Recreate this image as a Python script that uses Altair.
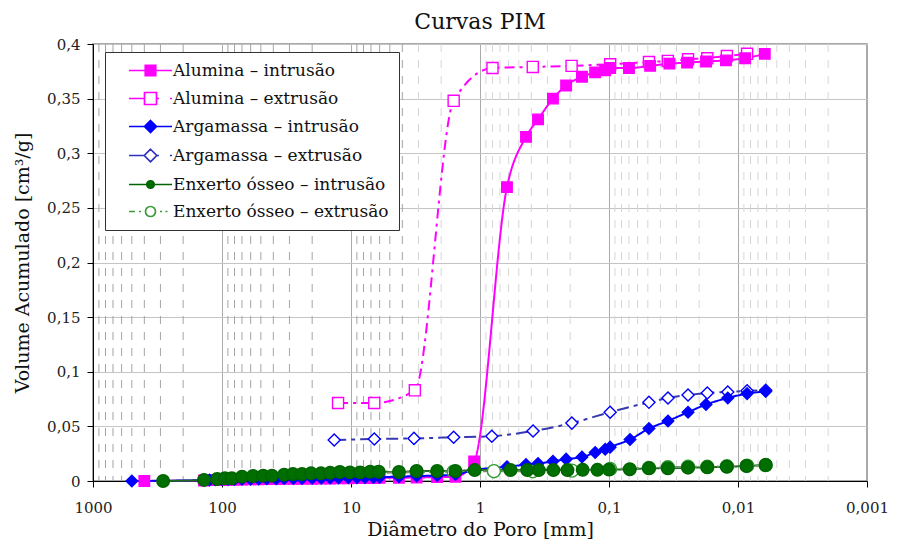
import altair as alt
import pandas as pd

series = [
    "Alumina – intrusão",
    "Alumina – extrusão",
    "Argamassa – intrusão",
    "Argamassa – extrusão",
    "Enxerto ósseo – intrusão",
    "Enxerto ósseo – extrusão",
]

# Alumina - intrusão
x_ai = [400, 138, 125, 113, 100, 90, 80, 70, 60, 52, 45, 38, 33, 28, 24, 20, 17, 14.5,
        12.5, 10.5, 9, 7.8, 6.7, 6.0, 4.25, 3.1, 2.15, 1.55, 1.11, 0.618, 0.44, 0.355,
        0.272, 0.215, 0.162, 0.128, 0.107, 0.098, 0.070, 0.048, 0.034, 0.0248, 0.0177,
        0.0124, 0.0088, 0.0062]
y_ai = [0, 0.0005, 0.0008, 0.001, 0.001, 0.0012, 0.0013, 0.0014, 0.0015, 0.0016, 0.0017,
        0.0018, 0.0019, 0.002, 0.002, 0.0021, 0.0022, 0.0023, 0.0024, 0.0025, 0.0026,
        0.0027, 0.0028, 0.003, 0.003, 0.0032, 0.0035, 0.0038, 0.018, 0.269, 0.315, 0.331,
        0.350, 0.362, 0.370, 0.374, 0.376, 0.378, 0.378, 0.380, 0.382, 0.383, 0.384,
        0.385, 0.387, 0.391]

# Alumina - extrusão
x_ae = [12.6, 6.6, 3.2, 1.6, 0.80, 0.39, 0.195, 0.098, 0.049, 0.035, 0.0244, 0.0173,
        0.0122, 0.0085]
y_ae = [0.0714, 0.0714, 0.083, 0.348, 0.378, 0.379, 0.380, 0.3815, 0.3835, 0.3845,
        0.386, 0.387, 0.389, 0.391]

# Argamassa - intrusão
x_gi = [500, 138, 125, 113, 100, 90, 80, 70, 60, 52, 45, 38, 33, 28, 24, 20, 17, 14.5,
        12.5, 10.5, 9, 7.8, 6.7, 6.0, 4.25, 3.1, 2.15, 1.55, 1.11, 0.618, 0.44, 0.355,
        0.272, 0.215, 0.162, 0.128, 0.107, 0.098, 0.0687, 0.049, 0.0349, 0.0244, 0.0177,
        0.012, 0.0085, 0.0061]
y_gi = [0, 0.0008, 0.001, 0.0012, 0.0013, 0.0014, 0.0015, 0.0016, 0.0017, 0.0018, 0.002,
        0.0021, 0.0022, 0.0023, 0.0024, 0.0025, 0.0026, 0.0027, 0.0028, 0.003, 0.0031,
        0.0032, 0.0033, 0.0035, 0.004, 0.0045, 0.005, 0.006, 0.010, 0.013, 0.015, 0.016,
        0.018, 0.020, 0.022, 0.026, 0.029, 0.031, 0.038, 0.048, 0.055, 0.063, 0.070,
        0.076, 0.080, 0.082]

# Argamassa - extrusão
x_ge = [13.5, 6.6, 3.25, 1.6, 0.81, 0.388, 0.194, 0.098, 0.049, 0.0349, 0.0244, 0.0173,
        0.012, 0.0085, 0.0061]
y_ge = [0.0375, 0.0384, 0.039, 0.040, 0.041, 0.0458, 0.053, 0.063, 0.072, 0.076, 0.0787,
        0.0805, 0.0815, 0.0825, 0.083]

# Enxerto ósseo - intrusão
x_ei = [286, 138, 109, 95, 84, 70, 57.5, 48, 41, 33, 28.2, 24, 20.4, 17.1, 14.5, 12.2,
        10.2, 8.5, 7.1, 6.1, 4.25, 3.1, 2.15, 1.55, 1.1, 0.58, 0.43, 0.35, 0.27, 0.21,
        0.16, 0.123, 0.1, 0.069, 0.049, 0.035, 0.0244, 0.0173, 0.0122, 0.0086, 0.0061]
y_ei = [0, 0.001, 0.0018, 0.0025, 0.0025, 0.004, 0.0046, 0.0049, 0.0049, 0.0058, 0.0064,
        0.0064, 0.007, 0.007, 0.0076, 0.0082, 0.0079, 0.0079, 0.0085, 0.0085, 0.0082,
        0.0092, 0.0092, 0.0092, 0.010, 0.010, 0.010, 0.010, 0.010, 0.010, 0.0102,
        0.0102, 0.0104, 0.0107, 0.0116, 0.0116, 0.0122, 0.0125, 0.0131, 0.0137, 0.0146]

# Enxerto ósseo - extrusão
x_ee = [12.4, 6.3, 3.1, 1.6, 0.78, 0.39, 0.194, 0.098, 0.049, 0.035, 0.0244, 0.0173,
        0.0122, 0.0085, 0.0061]
y_ee = [0.0073, 0.0075, 0.008, 0.0085, 0.009, 0.009, 0.0095, 0.011, 0.012, 0.0125,
        0.013, 0.013, 0.0135, 0.014, 0.0146]

x_ticks = [1000, 100, 10, 1, 0.1, 0.01, 0.001]
y_ticks = [0, 0.05, 0.1, 0.15, 0.2, 0.25, 0.3, 0.35, 0.4]
minor_mult = [2, 3, 4, 5, 6, 7, 8, 9]
minor_decades = [100, 10, 1, 0.1, 0.01, 0.001]

xs_all = [x_ai, x_ae, x_gi, x_ge, x_ei, x_ee]
ys_all = [y_ai, y_ae, y_gi, y_ge, y_ei, y_ee]
rows = []
for name, xs, ys in zip(series, xs_all, ys_all):
    for xv, yv in zip(xs, ys):
        rows.append({"serie": name, "d": xv, "v": yv, "ext": 0 if "extrus" in name else 1})
df = pd.DataFrame(rows)
df_pts = df.sort_values("ext", kind="stable").reset_index(drop=True)

minor_df = pd.DataFrame({"d": [m * dec for dec in minor_decades for m in minor_mult]})
legend_df = pd.DataFrame({"serie": series, "d": [1] * 6, "v": [-1] * 6})

SERIF = "DejaVu Serif"

xscale = alt.Scale(type="log", domain=[0.001, 1000], reverse=True, nice=False)
yscale = alt.Scale(domain=[0, 0.4], nice=False, zero=False)

line_colors = ["#FF00FF", "#FF00FF", "#0000FF", "#3838B0", "#1E6B1E", "#6F8F6F"]
dashes = [[1, 0], [10, 5, 3, 5], [1, 0], [12, 5, 4, 5], [1, 0], [6, 4, 2, 4]]
widths = [2, 2, 1.5, 1.5, 1.5, 1.5]
shapes = ["square", "square", "diamond", "diamond", "circle", "circle"]
mk_stroke = ["#FF00FF", "#FF00FF", "#0000FF", "#0000FF", "#006400", "#2E9A2E"]
mk_fill = ["#FF00FF", "#FFFFFF", "#0000FF", "#FFFFFF", "#006E00", "#FFFFFF"]
mk_size = [110, 170, 120, 150, 49, 170]

leg_paths = [
    "M-4.3,0H4.3M-1.05,-1.05H1.05V1.05H-1.05Z",
    "M-4.3,0H-1.2M1.2,0H1.7M3.9,0H4.3M-1.2,-1.2H1.2V1.2H-1.2Z",
    "M-4.3,0H4.3M0,-1.2L1.2,0L0,1.2L-1.2,0Z",
    "M-4.3,0H-1.25M1.25,0H1.7M3.9,0H4.3M0,-1.25L1.25,0L0,1.25L-1.25,0Z",
    "M-4.3,0H4.3M-0.75,0A0.75,0.75,0,1,0,0.75,0A0.75,0.75,0,1,0,-0.75,0Z",
    "M-4.3,0H-3.1M-2.3,0H-1.9M1.9,0H2.3M3.0,0H3.4M-1,0A1,1,0,1,0,1,0A1,1,0,1,0,-1,0Z",
]
leg_stroke = ["#FF00FF", "#FF00FF", "#0000FF", "#3030C0", "#006400", "#3A9A3A"]

x_axis = alt.Axis(
    values=x_ticks, format="~g", labelExpr="replace(datum.label, '.', ',')",
    title="Diâmetro do Poro [mm]", grid=True, gridColor="#ababab", gridWidth=1,
    tickSize=6, tickColor="#000", domainColor="#000", labelPadding=13,
    labelFont=SERIF, labelFontSize=15, labelColor="#222", titleFont=SERIF,
    titleFontSize=19, titleFontWeight="normal", titleColor="#111", titlePadding=5,
    labelFlush=False, labelOverlap=False,
)
y_axis = alt.Axis(
    values=y_ticks, format=".2~f", labelExpr="replace(datum.label, '.', ',')",
    title="Volume Acumulado [cm³/g]", grid=True, gridColor="#c4c4c4", gridWidth=1,
    tickSize=6, tickColor="#000", domainColor="#000", labelPadding=7,
    labelFont=SERIF, labelFontSize=15, labelColor="#222", titleFont=SERIF,
    titleFontSize=19, titleFontWeight="normal", titleColor="#111", titlePadding=14,
    labelFlush=False, labelOverlap=False,
)

X = lambda: alt.X("d:Q", scale=xscale, axis=x_axis)
Y = lambda: alt.Y("v:Q", scale=yscale, axis=y_axis)

minor = alt.Chart(minor_df).mark_rule(strokeDash=[8, 8], strokeWidth=1).encode(
    x=X(),
    color=alt.condition(alt.datum.d > 3.5, alt.value("#a4a4a4"), alt.value("#d6d6d6")),
)

lines = alt.Chart(df).mark_line(interpolate="monotone").encode(
    x=X(), y=Y(),
    color=alt.Color("serie:N", scale=alt.Scale(domain=series, range=line_colors), legend=None),
    strokeDash=alt.StrokeDash("serie:N", scale=alt.Scale(domain=series, range=dashes), legend=None),
    strokeWidth=alt.StrokeWidth("serie:N", scale=alt.Scale(domain=series, range=widths), legend=None),
    order=alt.Order("d:Q", sort="descending"),
)

points = alt.Chart(df_pts).mark_point(opacity=1, strokeWidth=1.4).encode(
    x=X(), y=Y(),
    shape=alt.Shape("serie:N", scale=alt.Scale(domain=series, range=shapes), legend=None),
    stroke=alt.Stroke("serie:N", scale=alt.Scale(domain=series, range=mk_stroke), legend=None),
    fill=alt.Fill("serie:N", scale=alt.Scale(domain=series, range=mk_fill), legend=None),
    size=alt.Size("serie:N", scale=alt.Scale(domain=series, range=mk_size), legend=None),
)

leg = alt.Legend(
    title=None, orient="none", legendX=12, legendY=8, padding=10,
    strokeColor="#333333", fillColor="#FFFFFF",
    labelFont=SERIF, labelFontSize=17, labelColor="#111", labelLimit=450,
    symbolSize=100, symbolStrokeWidth=1.7, symbolOffset=27, labelOffset=14,
    rowPadding=9,
)

legend_layer = alt.Chart(legend_df).mark_point(opacity=1, clip=True).encode(
    x=X(), y=Y(),
    shape=alt.Shape("serie:N", scale=alt.Scale(domain=series, range=leg_paths), legend=leg),
    stroke=alt.Stroke("serie:N", scale=alt.Scale(domain=series, range=leg_stroke), legend=leg),
    fill=alt.Fill("serie:N", scale=alt.Scale(domain=series, range=mk_fill), legend=leg),
)

chart = alt.layer(minor, lines, points, legend_layer).resolve_scale(
    shape="independent", stroke="independent", fill="independent"
).properties(
    width=774, height=437,
    title=alt.TitleParams("Curvas PIM", font=SERIF, fontSize=22, fontWeight="normal",
                          color="#111", anchor="middle", offset=3),
    autosize=alt.AutoSizeParams(type="none"),
    padding={"left": 85, "top": 36, "right": 23, "bottom": 61},
).configure_view(stroke="#8c8c8c", strokeWidth=1.5)

chart.save("out.html", embed_options={"renderer": "svg", "actions": False})
